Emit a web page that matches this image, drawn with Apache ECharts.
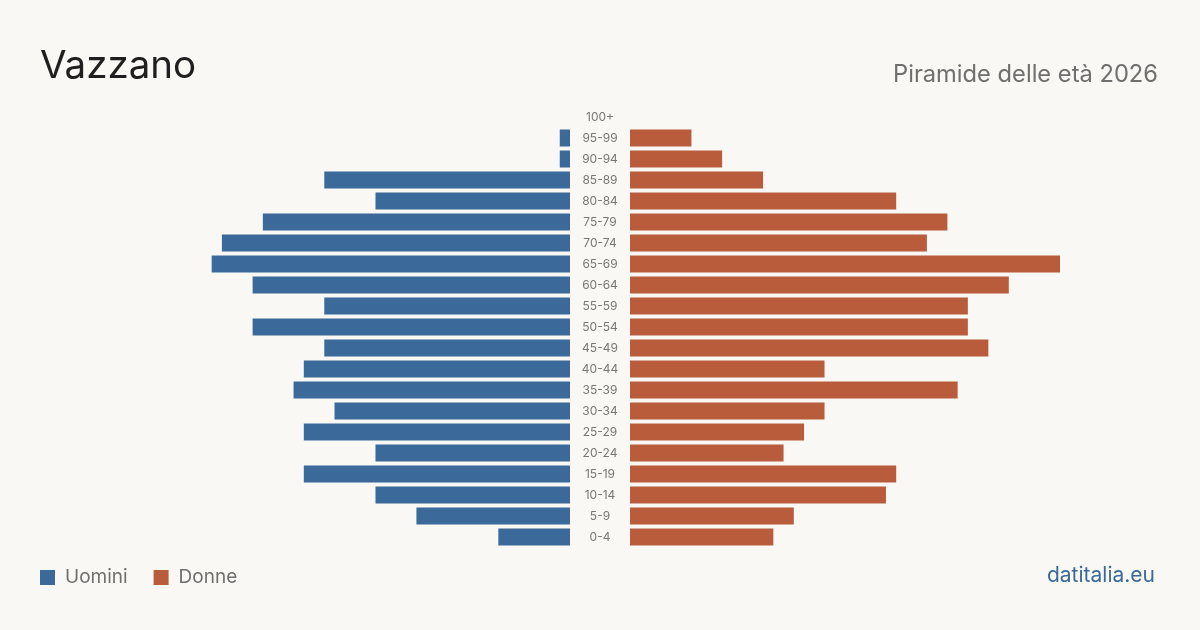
<!DOCTYPE html>
<html lang="it">
<head>
    <meta charset="UTF-8">
    <title>Vazzano - Piramide delle età 2026</title>
    <script src="https://cdn.jsdelivr.net/npm/echarts@6/dist/echarts.min.js"></script>
    <style>
        html, body { margin: 0; padding: 0; background: #f9f8f4; }
        #main { width: 1200px; height: 630px; }
    </style>
</head>
<body>
<div id="main"></div>
<script type="text/javascript">
    // fasce d'età dal basso verso l'alto
    var eta = ['0-4','5-9','10-14','15-19','20-24','25-29','30-34','35-39','40-44','45-49',
               '50-54','55-59','60-64','65-69','70-74','75-79','80-84','85-89','90-94','95-99','100+'];
    var uomini = [7,15,19,26,19,26,23,27,26,24,31,24,31,35,34,30,19,24,1,1,0];
    var donne  = [14,16,25,26,15,17,19,32,19,35,33,33,37,42,29,31,26,13,9,6,0];
    var scalaMax = 42;

    var blu = '#3b6a9a';
    var arancio = '#b95c3c';
    var font = 'Inter, "Noto Sans", sans-serif';

    var myChart = echarts.init(document.getElementById('main'));

    var option = {
        backgroundColor: '#f9f8f4',
        textStyle: { fontFamily: font },
        animation: false,
        title: [
            { text: 'Vazzano', left: 35, top: 42, textStyle: { fontSize: 38.5, fontWeight: 'normal', color: '#1f1f1f', fontFamily: font } },
            { text: 'Piramide delle età 2026', right: 37, top: 58, textStyle: { fontSize: 23.7, fontWeight: 'normal', color: '#6f6f6f', fontFamily: font } },
            { text: 'datitalia.eu', right: 40, top: 560, textStyle: { fontSize: 21, fontWeight: 'normal', color: blu, fontFamily: font } }
        ],
        legend: {
            left: 40,
            top: 568,
            padding: 0,
            itemWidth: 15,
            itemHeight: 15,
            itemGap: 26,
            icon: 'rect',
            textStyle: { fontSize: 19, color: '#6f6f6f', padding: [0, 0, 0, 5], fontFamily: font },
            data: ['Uomini', 'Donne']
        },
        grid: [
            { left: 140, width: 430, top: 106.5, bottom: 82.5 },
            { left: 630, width: 430, top: 106.5, bottom: 82.5 }
        ],
        xAxis: [
            { type: 'value', gridIndex: 0, min: 0, max: scalaMax, inverse: true, show: false },
            { type: 'value', gridIndex: 1, min: 0, max: scalaMax, show: false }
        ],
        yAxis: [
            { type: 'category', gridIndex: 0, data: eta, show: false },
            {
                type: 'category', gridIndex: 1, data: eta,
                axisLine: { show: false }, axisTick: { show: false },
                axisLabel: { margin: 30, align: 'center', fontSize: 12, color: '#777777', fontFamily: font }
            }
        ],
        series: [
            {
                name: 'Uomini', type: 'bar', xAxisIndex: 0, yAxisIndex: 0,
                data: uomini, barCategoryGap: '19%', itemStyle: { color: blu }
            },
            {
                name: 'Donne', type: 'bar', xAxisIndex: 1, yAxisIndex: 1,
                data: donne, barCategoryGap: '19%', itemStyle: { color: arancio }
            }
        ]
    };

    myChart.setOption(option);
</script>
</body>
</html>
